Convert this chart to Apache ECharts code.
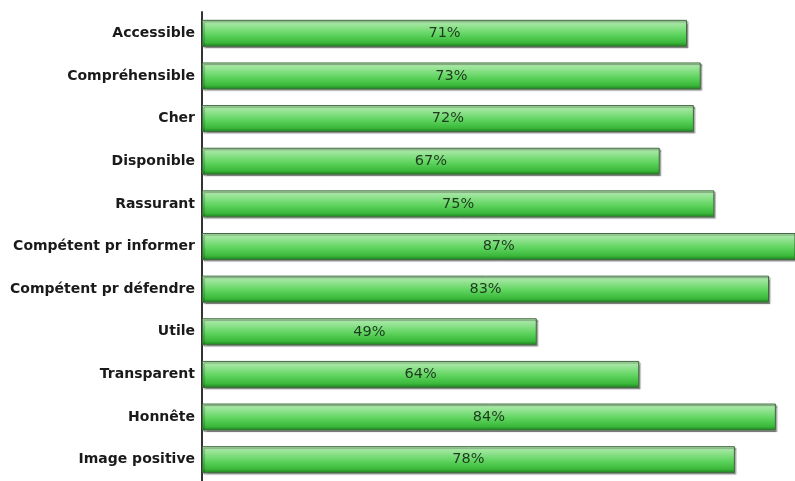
<!DOCTYPE html>
<html><head><meta charset="utf-8">
<script src="https://cdn.jsdelivr.net/npm/echarts@6/dist/echarts.min.js"></script>
<style>html,body{margin:0;padding:0;background:#fff}#c{width:795px;height:481px}</style>
</head><body><div id="c"></div>
<script>
const categories = ["Accessible","Compréhensible","Cher","Disponible","Rassurant","Compétent pr informer","Compétent pr défendre","Utile","Transparent","Honnête","Image positive"];
const values = [71,73,72,67,75,87,83,49,64,84,78];

const chart = echarts.init(document.getElementById('c'));
chart.setOption({
  animation:false,
  grid:{left:202, top:12, right:0, height:476, containLabel:false},
  xAxis:{type:'value', min:0, max:86.8, show:false},
  yAxis:{type:'category', inverse:true, data:categories,
    axisLine:{show:true, lineStyle:{color:'#333', width:2}},
    axisTick:{show:false},
    axisLabel:{fontFamily:'DejaVu Sans', fontWeight:'bold', fontSize:14, color:'#1a1a1a', margin:7}},
  series:[{type:'bar', data:values, barWidth:27,
    itemStyle:{
      color:new echarts.graphic.LinearGradient(0,0,0,1,[
        {offset:0,color:'#c4f0c0'},{offset:0.12,color:'#a6e8a4'},{offset:0.55,color:'#5ed45e'},{offset:0.85,color:'#3ab83a'},{offset:1,color:'#1c7a1c'}]),
      borderColor:'#3d6b3d', borderWidth:1,
      shadowColor:'rgba(0,0,0,0.35)', shadowOffsetX:1.5, shadowOffsetY:1.5, shadowBlur:1
    },
    label:{show:true, position:'inside', formatter:'{c}%', fontFamily:'DejaVu Sans', fontSize:14.5, color:'#1f3a1f'}
  }]
});
</script></body></html>
